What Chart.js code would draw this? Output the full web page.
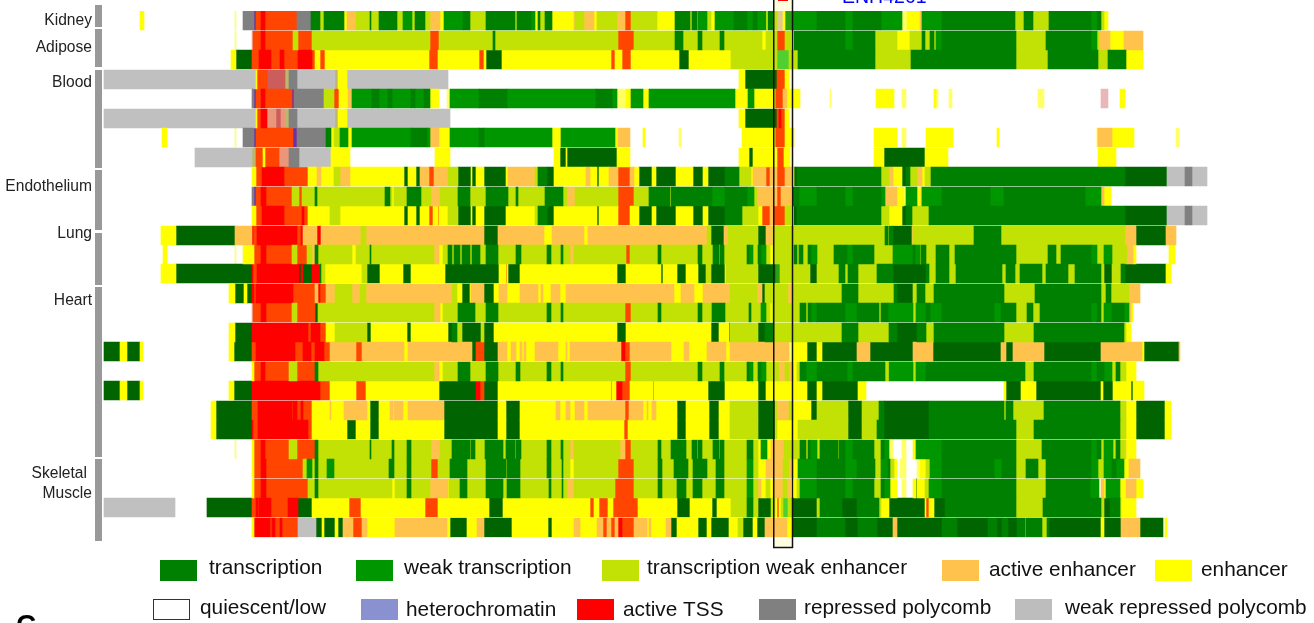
<!DOCTYPE html>
<html><head><meta charset="utf-8">
<style>html,body{margin:0;padding:0;background:#fff}canvas{display:block}</style>
<script src="https://cdn.jsdelivr.net/npm/chart.js@4"></script>
</head><body><canvas id="c" width="1314" height="623"></canvas>
<script>
// chromatin state keys
const T='T',W='W',E='E',A='A',Y='Y',H='H',R='R',G='G',L='L',Q='Q',O='O',D='D',P='P',y='y',S='S',I='I',K='K',B='B',M='M',N='N',C='C';
const stateKeys=[T,W,E,A,Y,H,R,G,L,O,D,P,y,S,I,K,B,M,N,C];
const stateColors=['#008000','#009600','#C2E105','#FFC34D','#FFFF00','#8A91D0','#FF0000','#808080','#C0C0C0','#FF4500','#006400','#7030A0','#FFFF66','#E9967A','#CD5C5C','#BDB76B','#E8B8B8','#50D030','#E0C890','#28A010'];
const rowLabels=['Kidney 1','Adipose 1','Adipose 2','Blood 1','Blood 2','Blood 3','Blood 4','Blood 5','Endothelium 1','Endothelium 2','Endothelium 3','Lung 1','Lung 2','Lung 3','Heart 1','Heart 2','Heart 3','Heart 4','Heart 5','Heart 6','Heart 7','Heart 8','Heart 9','Skeletal 1','Skeletal 2','Skeletal 3','Skeletal 4'];
// each row: position, state, position, state ... position (Q = no signal)
const row01=[140,Y,144,Q,235,y,236,Q,243,G,254,P,256,O,261,R,265,O,297,G,311,T,320,E,324,T,344,Y,347,A,356,E,370,T,371,E,379,T,397,E,403,W,412,E,415,T,425,E,430,A,440,Y,444,W,463,T,470,E,486,T,515,E,517,T,531,W,535,Y,538,T,540,E,545,T,552,Y,574,A,575,E,584,A,594,Y,597,E,617,A,625,O,631,E,657,Y,675,T,690,E,692,T,697,E,698,W,707,E,711,Y,715,W,734,T,747,W,753,T,757,W,766,Y,768,T,773,E,777,N,783,Y,785,C,793,W,817,T,845,W,853,T,881,W,902,y,907,Y,920,A,922,W,942,T,1015,E,1024,T,1033,E,1049,T,1091,W,1097,T,1101,E,1104,Y,1108];
const row02=[235,y,236,Q,252,B,253,O,261,R,265,O,293,E,298,O,312,E,430,O,439,E,493,T,495,E,618,O,634,E,675,T,683,E,698,T,702,E,720,T,724,E,762,Y,766,E,777,O,785,E,791,Q,794,T,845,W,853,T,875,E,897,Y,910,E,922,T,925,E,930,T,934,E,936,W,942,T,1016,E,1046,T,1091,W,1097,E,1099,A,1110,Y,1124,A,1143];
const row03=[231,Y,236,D,252,O,259,R,271,O,280,R,284,O,298,R,312,O,315,Y,320,O,325,Y,429,O,438,Y,479,O,484,Y,486,D,502,Y,611,O,615,Y,622,O,631,Y,679,D,689,Y,731,E,777,M,789,E,798,T,875,E,911,T,1016,E,1048,T,1098,E,1108,T,1126,Y,1143];
const row04=[104,L,256,Y,257,O,267,I,285,K,289,G,297,L,335,K,338,Y,347,L,448,Q,739,Y,745,D,777,O,785,Y,789];
const row05=[252,G,254,P,256,O,261,R,265,O,292,P,294,G,324,E,334,O,339,Y,348,A,352,W,372,T,379,W,388,T,392,W,411,T,415,W,424,T,430,Y,439,Q,447,y,450,W,479,T,507,W,596,T,612,W,617,y,626,Y,631,W,643,Y,649,W,735,Y,748,W,754,Y,775,O,783,A,787,Y,800,Q,830,y,831,Q,876,Y,894,Q,902,y,906,Q,934,Y,936,y,938,Q,949,y,952,Q,1038,y,1044,Q,1101,B,1108,Q,1120,Y,1125];
const row06=[104,L,256,Y,257,O,261,R,267,S,276,I,281,S,285,K,289,G,297,L,335,K,338,Y,347,L,450,Q,739,Y,745,D,777,O,779,R,781,O,785,Y,789];
const row07=[162,Y,167,Q,235,y,236,Q,243,G,254,P,256,O,293,P,297,G,326,T,331,Y,334,E,340,W,348,Y,352,W,411,T,427,W,430,A,439,Y,450,W,479,T,484,W,552,Y,561,W,615,Y,618,A,630,Q,643,Y,645,Q,679,y,681,Q,742,Y,775,O,785,Y,794,Q,874,Y,897,Q,902,y,906,Q,926,Y,953,Q,997,Y,999,Q,1097,Y,1098,A,1112,Y,1134,Q,1176,y,1179];
const row08=[195,L,252,K,256,O,263,Y,265,O,279,S,289,G,299,L,331,Y,350,Q,435,Y,450,Q,554,Y,560,D,566,Y,567,D,617,Y,630,Q,739,Y,749,D,753,Y,777,O,784,Y,790,Q,874,Y,884,D,925,Y,948,Q,1098,Y,1116];
const row09=[252,Y,256,O,262,R,284,O,308,Y,317,A,321,Y,334,E,340,A,350,Y,404,D,408,Y,416,D,420,A,429,O,434,A,448,E,458,D,471,Y,472,D,476,Y,484,D,506,Y,508,A,535,E,538,T,547,D,554,Y,586,A,590,Y,597,D,599,Y,609,A,618,O,630,A,634,Y,639,D,652,Y,656,D,676,Y,693,D,703,Y,708,D,725,T,739,E,751,Y,753,A,766,O,770,A,777,O,785,A,791,Y,794,D,797,T,881,E,889,A,893,Y,902,D,906,T,910,E,917,A,922,Y,925,E,931,T,1125,D,1167,L,1185,G,1192,L,1207];
const row10=[252,G,254,P,256,O,261,R,266,O,292,E,299,O,302,E,315,T,317,E,385,T,390,E,392,Y,394,E,407,T,421,E,431,A,440,E,458,T,470,E,486,T,508,E,516,T,518,E,545,T,563,E,567,A,575,E,618,O,634,E,649,T,670,Y,671,T,712,W,725,T,747,W,754,E,757,A,777,O,781,A,791,Q,793,T,799,W,817,T,845,W,853,T,881,W,885,A,897,Y,904,y,906,W,917,Y,921,A,922,W,942,T,990,W,1004,T,1085,W,1101,A,1104,Y,1111];
const row11=[252,Y,256,O,262,R,284,O,302,R,304,O,308,Y,330,E,340,Y,404,D,408,Y,416,D,420,Y,429,O,433,Y,438,O,439,Y,448,E,458,D,471,Y,472,D,476,Y,484,D,506,Y,535,E,538,T,547,D,554,Y,597,D,599,Y,618,O,630,Y,639,D,652,Y,656,D,676,Y,693,D,703,Y,708,D,725,T,742,E,758,Y,762,O,770,A,773,O,785,E,791,Q,794,D,797,T,881,E,889,Y,902,D,906,T,912,E,929,T,1125,D,1167,L,1185,G,1192,L,1207];
const row12=[161,Y,176,D,235,A,252,R,253,O,257,R,297,O,301,R,303,A,317,R,321,A,361,E,366,A,484,D,498,A,544,Y,552,A,584,Y,588,A,707,E,711,D,724,A,728,E,758,D,766,A,773,E,885,T,888,E,889,T,893,D,912,A,913,E,974,T,1001,E,1125,A,1136,D,1166,A,1176];
const row13=[163,Y,167,Q,235,y,236,Q,243,Y,254,O,261,R,266,O,292,E,297,O,307,E,312,A,315,T,318,E,352,Y,356,E,370,T,371,E,434,A,439,Y,443,E,448,T,452,E,454,T,460,E,462,T,470,E,472,T,480,E,486,T,498,E,516,T,521,E,547,T,551,E,561,T,563,E,570,A,574,E,626,O,630,E,658,T,661,E,698,T,702,E,713,T,719,E,720,T,724,E,747,T,749,W,753,E,758,T,761,W,766,E,770,Y,773,E,794,T,797,E,799,T,803,E,808,T,811,W,817,E,834,T,847,W,853,T,874,E,893,W,913,T,915,W,920,E,921,T,926,E,936,T,949,E,955,T,1016,E,1048,T,1056,E,1061,T,1091,W,1097,E,1104,W,1112,E,1127,A,1133,Y,1136,Q,1169,Y,1175];
const row14=[161,Y,176,D,252,R,253,O,257,R,299,D,301,R,303,D,312,R,320,T,321,E,325,Y,362,E,367,D,380,Y,403,D,411,Y,445,D,499,Y,506,O,507,Y,508,D,520,Y,617,D,626,Y,661,D,663,Y,677,D,686,Y,698,D,706,E,711,D,725,Y,726,E,758,D,775,C,780,E,810,D,817,E,839,T,845,E,848,T,858,E,877,T,893,D,926,T,929,E,936,T,949,E,956,T,1002,E,1006,T,1015,E,1020,T,1042,E,1046,T,1068,E,1075,T,1101,E,1104,D,1112,E,1121,T,1125,D,1166,Y,1171];
const row15=[229,Y,235,D,244,Y,247,D,252,R,254,O,256,R,293,O,315,A,318,R,320,O,326,A,335,E,352,A,360,E,366,A,452,E,457,Y,462,D,470,Y,471,A,484,D,494,Y,499,A,507,Y,520,A,538,Y,541,A,543,Y,551,A,560,Y,566,A,674,Y,681,A,694,Y,703,A,730,E,757,A,762,D,765,E,788,A,793,E,842,T,858,E,894,T,897,D,913,E,917,T,925,E,934,T,1004,E,1035,T,1101,E,1106,T,1111,E,1129,A,1140];
const row16=[252,B,253,O,261,R,266,O,292,E,297,O,315,D,318,E,434,A,440,Y,443,E,458,T,475,E,486,T,498,E,547,T,551,E,561,T,563,E,625,O,631,E,658,T,661,E,698,T,702,E,712,T,725,E,749,T,751,E,761,W,766,E,770,Y,772,E,800,T,806,E,808,T,811,W,817,T,845,W,857,T,879,E,881,T,888,W,913,E,916,W,926,T,930,W,942,T,994,W,1001,T,1016,E,1027,T,1033,E,1040,T,1091,W,1097,T,1101,E,1104,W,1112,T,1124,W,1129,A,1131,Y,1133];
const row17=[229,Y,235,D,252,R,308,O,311,R,320,O,326,Y,335,E,367,D,371,Y,407,D,411,Y,448,D,452,T,457,E,462,D,481,E,484,D,494,Y,617,D,626,Y,711,D,719,Y,729,D,730,E,758,D,765,T,773,E,842,T,858,E,889,T,897,D,917,T,926,E,934,T,1004,E,1034,T,1124,E,1126,Y,1131];
const row18=[104,D,120,Y,127,D,140,Y,143,Q,229,Y,234,D,252,O,256,R,295,O,303,R,311,O,315,R,324,O,330,A,356,O,362,A,404,Y,408,A,472,D,476,O,484,D,498,A,507,Y,511,A,516,Y,520,A,522,Y,524,A,526,Y,535,A,558,Y,566,A,567,Y,570,A,621,R,625,O,630,A,671,Y,684,A,689,Y,707,A,726,Y,730,A,789,y,793,Y,807,D,817,Y,822,D,857,A,870,D,913,A,933,D,1001,A,1006,D,1013,A,1044,D,1101,A,1142,Y,1144,D,1179,A,1180];
const row19=[252,Y,254,O,261,R,265,O,289,E,297,O,315,T,318,E,434,A,439,Y,443,E,458,T,470,E,486,T,498,E,516,T,520,E,547,T,551,E,561,T,563,E,625,O,631,E,698,T,702,E,720,T,724,E,747,T,749,W,753,E,758,T,761,W,766,E,779,A,785,E,789,A,793,Y,797,E,800,T,806,W,817,T,847,W,853,T,885,E,888,Y,889,W,913,E,916,W,926,T,1025,E,1034,T,1091,W,1097,T,1104,W,1112,E,1116,T,1120,E,1126,Y,1136];
const row20=[104,D,120,Y,127,D,140,Y,143,Q,229,Y,234,D,252,R,320,O,330,Y,356,O,366,Y,439,D,476,R,480,O,484,D,498,Y,611,O,612,Y,616,R,622,O,630,Y,653,O,654,Y,708,D,725,Y,758,D,766,Y,807,D,817,Y,822,D,858,Y,866,Q,1004,Y,1006,D,1021,Y,1036,D,1101,Y,1103,D,1113,Y,1131,D,1133,Y,1144];
const row21=[211,Y,216,D,252,O,258,R,292,O,293,R,297,O,301,R,303,O,312,Y,330,A,331,Y,344,A,367,Y,370,D,379,Y,390,A,393,Y,394,A,403,Y,408,A,444,D,498,Y,506,D,520,Y,556,A,560,Y,566,A,570,Y,575,A,584,Y,588,A,625,O,629,A,643,Y,647,A,648,Y,652,A,656,Y,677,D,686,Y,709,D,719,Y,730,E,758,D,775,E,777,A,789,E,793,Y,811,D,817,E,848,D,862,E,879,T,884,D,929,T,1004,E,1006,T,1013,E,1044,T,1120,E,1126,Y,1136,D,1165,Y,1171];
const row22=[211,Y,216,D,252,R,253,O,258,R,308,O,312,Y,347,D,356,Y,370,D,379,Y,444,D,498,Y,506,D,520,Y,624,O,628,Y,677,D,686,Y,709,D,719,Y,730,E,758,D,775,E,777,Y,798,E,848,D,862,E,877,T,884,D,929,T,1016,E,1034,T,1120,E,1126,Y,1136,D,1165,Y,1171];
const row23=[235,y,236,Q,252,Y,254,O,261,R,265,O,289,E,297,O,315,T,318,E,370,T,371,E,392,T,394,E,407,T,411,E,431,A,440,E,452,T,470,E,471,T,475,E,485,T,503,E,506,T,515,E,516,T,521,E,547,T,551,E,561,T,563,E,570,A,574,E,620,A,625,O,631,E,658,T,661,E,671,T,686,E,692,T,697,E,698,T,702,E,713,T,719,E,720,T,724,E,747,T,753,E,758,Y,761,W,767,Y,771,A,784,E,800,T,806,E,808,T,810,W,817,E,820,T,838,E,839,T,845,W,853,T,874,E,881,T,884,W,889,y,893,Q,902,y,906,Q,913,Y,916,W,942,T,1016,E,1042,T,1091,W,1097,T,1101,E,1104,W,1113,E,1116,T,1120,E,1125,A,1126,Y,1136];
const row24=[252,Y,254,O,261,R,266,O,303,E,307,W,312,E,315,T,318,E,327,W,334,E,389,T,394,E,407,T,411,E,431,O,438,E,450,T,467,E,486,T,506,E,507,T,520,E,547,T,551,E,562,T,563,E,570,Y,574,E,618,O,634,E,658,T,662,E,674,T,688,E,693,T,707,E,716,T,724,E,747,W,753,E,758,Y,766,A,783,E,789,A,793,Y,798,W,817,T,845,W,857,T,875,E,881,W,888,T,890,E,894,Y,897,Q,900,y,906,Q,917,y,920,Y,926,E,930,W,942,T,994,W,1002,T,1016,E,1026,T,1038,E,1046,T,1091,W,1098,E,1104,W,1112,T,1116,W,1124,Y,1129,A,1140];
const row25=[252,Y,254,O,261,R,266,O,308,E,315,T,318,E,392,Y,395,E,407,T,411,E,430,A,448,Y,449,E,460,T,467,E,486,T,503,E,507,T,520,E,549,T,551,E,562,T,563,E,567,A,574,E,615,O,634,E,658,T,662,E,677,T,686,E,693,T,702,E,716,T,724,E,747,W,753,E,758,A,761,Y,766,E,770,Y,773,A,783,E,787,A,791,Q,794,Y,797,E,800,W,817,T,845,W,853,T,874,E,881,T,884,W,890,Y,897,Q,902,y,906,Q,913,Y,916,D,917,Y,925,E,929,W,942,T,1016,E,1046,T,1090,W,1099,Q,1101,A,1104,Y,1106,W,1120,Y,1126,A,1136,Y,1143];
const row26=[104,L,175,Q,207,D,252,O,256,R,258,O,259,R,271,O,288,R,298,D,312,Y,349,O,361,Y,425,O,438,Y,489,D,503,Y,590,O,594,Y,599,O,608,Y,613,O,638,Y,677,D,690,Y,712,D,717,Y,731,E,747,T,753,E,758,D,771,E,775,Y,777,O,779,Y,781,E,783,M,788,E,792,D,817,E,820,T,842,D,857,T,879,E,881,Y,889,D,925,Y,926,O,929,Y,934,D,945,T,1016,E,1043,T,1101,E,1104,D,1110,T,1120,E,1121,Y,1136];
const row27=[252,Y,254,R,270,O,272,R,275,O,280,R,282,O,298,L,316,D,322,Y,324,D,335,Y,338,D,343,A,353,O,362,A,367,Y,395,A,447,Y,450,D,467,Y,477,A,484,D,512,Y,548,D,552,Y,574,A,580,Y,597,A,603,O,607,A,611,O,615,A,618,R,622,O,634,A,647,Y,649,A,651,Y,666,A,671,D,677,Y,698,D,707,Y,711,D,729,Y,738,E,743,D,753,Y,757,D,765,A,787,Y,792,D,817,T,845,D,858,T,877,D,893,A,897,D,942,T,957,D,988,T,997,D,1002,T,1008,D,1017,T,1025,E,1026,T,1042,E,1047,T,1049,D,1101,Y,1104,D,1121,A,1140,D,1163,Q,1165,Y,1167];
const rows=[row01,row02,row03,row04,row05,row06,row07,row08,row09,row10,row11,row12,row13,row14,row15,row16,row17,row18,row19,row20,row21,row22,row23,row24,row25,row26,row27];

const legendLabels=['transcription','weak transcription','transcription weak enhancer','active enhancer','enhancer','quiescent/low','heterochromatin','active TSS','repressed polycomb','weak repressed polycomb'];

// layout of the page furniture (not data)
const legendBoxes=[[160,560,'#008000',209,568],[356,560,'#009600',404,568],[602,560,'#C2E105',647,568],[942,560,'#FFC34D',989,570],[1155,560,'#FFFF00',1201,570],[153,599,'#fff',200,608],[361,599,'#8A91D0',406,610],[577,599,'#FF0000',623,610],[759,599,'#808080',804,608],[1015,599,'#BDBDBD',1065,608]];
const groupStrips=[[5,27],[29,67],[70,168],[170,230],[233,285],[287,457],[459,541]];
const groupTexts=[['Kidney',92,21],['Adipose',92,48],['Blood',92,83],['Endothelium',92,187],['Lung',92,234],['Heart',92,301],['Skeletal',87,474],['Muscle',92,494]];

const datasets=stateKeys.map((k,i)=>({label:k,backgroundColor:stateColors[i],borderWidth:0,barThickness:19,grouped:false,data:[]}));
rows.forEach((r,ri)=>{
  for(let j=0;j+2<r.length;j+=2){
    if(r[j+1]===Q)continue;
    datasets[stateKeys.indexOf(r[j+1])].data.push({x:[r[j],r[j+2]],y:rowLabels[ri]});
  }
});

const snapRows={id:'snapRows',beforeDatasetsDraw(chart){
  chart.data.datasets.forEach((d,di)=>{
    chart.getDatasetMeta(di).data.forEach((el,i)=>{
      const k=rowLabels.indexOf(d.data[i].y);
      const yc=chart.scales.y.getPixelForValue(k);
      el.y=Math.round(yc-9.5-(k>=12?0.5:0))+9.5;
    });
  });
}};
const furniture={id:'furniture',
  beforeDatasetsDraw(chart){
    const c=chart.ctx;
    c.save();
    c.fillStyle='#FFFFE0';
    c.fillRect(774,0,18,548);
    c.fillStyle='#999999';
    groupStrips.forEach(g=>c.fillRect(95,g[0],7,g[1]-g[0]));
    c.fillStyle='#222';
    c.textAlign='right';c.textBaseline='middle';
    c.font='15.6px "Liberation Sans"';
    groupTexts.forEach(t=>c.fillText(t[0],t[1],t[2]));
    c.textAlign='left';
    c.font='20.8px "Liberation Sans"';
    legendBoxes.forEach((b,i)=>{
      c.fillStyle=b[2];c.fillRect(b[0],b[1],37,21);
      if(i===5){c.strokeStyle='#333';c.lineWidth=1;c.strokeRect(b[0]+.5,b[1]+.5,36,20);}
      c.fillStyle='#111';c.fillText(legendLabels[i],b[3],b[4]);
    });
    c.fillStyle='#000';c.textBaseline='alphabetic';
    c.font='bold 28px "Liberation Sans"';
    c.fillText('C',16,634);
    c.fillStyle='#0000FF';c.font='19.5px "Liberation Sans"';
    c.fillText('ENH4261',842,3);
    c.restore();
  },
  afterDatasetsDraw(chart){
    const c=chart.ctx;
    c.save();
    c.fillStyle='#FF0000';c.fillRect(778,0,10,1);
    c.strokeStyle='#111';c.lineWidth=1.5;
    c.strokeRect(773.75,-5,18.75,552.5);
    c.restore();
  }};

new Chart(document.getElementById('c'),{
  type:'bar',
  data:{labels:rowLabels,datasets},
  plugins:[snapRows,furniture],
  options:{indexAxis:'y',responsive:false,animation:false,
    layout:{padding:{top:11,bottom:85.5,left:0,right:0}},
    plugins:{legend:{display:false},tooltip:{enabled:false}},
    scales:{
      x:{type:'linear',min:0,max:1314,display:false},
      y:{type:'category',display:false}
    }}
});
</script></body></html>
